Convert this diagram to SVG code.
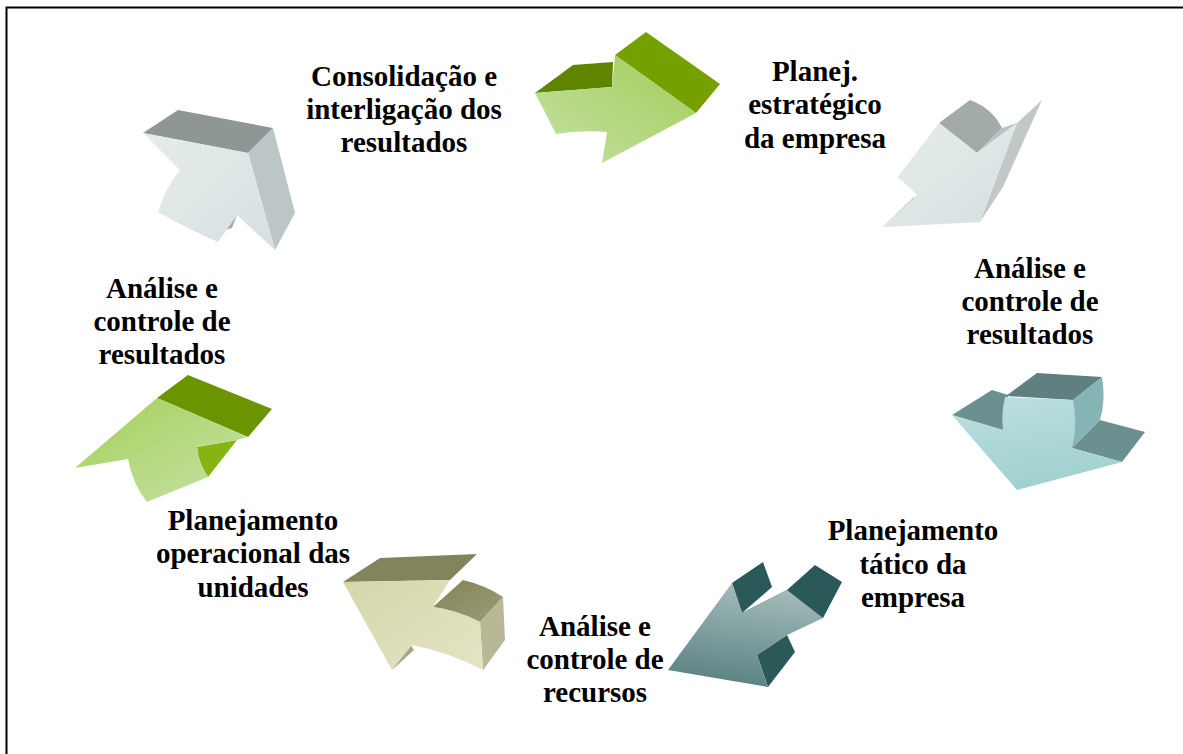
<svg xmlns="http://www.w3.org/2000/svg" width="1183" height="754" viewBox="0 0 1183 754">
  <defs>
    <style>
      .lbl { font-family: "Liberation Serif", "Times New Roman", serif; font-weight: bold; font-size: 29px; fill: #000; text-anchor: middle; }
    </style>
    <linearGradient id="gGreen1" x1="0" y1="1" x2="1" y2="0">
      <stop offset="0" stop-color="#c4e2a4"/>
      <stop offset="1" stop-color="#a2cc58"/>
    </linearGradient>
    <linearGradient id="gGreen2" x1="0" y1="0" x2="1" y2="1">
      <stop offset="0" stop-color="#a4cf5a"/>
      <stop offset="1" stop-color="#c6e3a6"/>
    </linearGradient>
    <linearGradient id="gGrey" x1="0" y1="0" x2="1" y2="1">
      <stop offset="0" stop-color="#e6ecec"/>
      <stop offset="1" stop-color="#d6e0e0"/>
    </linearGradient>
    <linearGradient id="gTeal" x1="0" y1="0" x2="0.3" y2="1">
      <stop offset="0" stop-color="#bde0e0"/>
      <stop offset="1" stop-color="#a2d0d0"/>
    </linearGradient>
    <linearGradient id="gDeep" x1="0.5" y1="0" x2="0.3" y2="1">
      <stop offset="0" stop-color="#a4bcbc"/>
      <stop offset="1" stop-color="#588080"/>
    </linearGradient>
    <linearGradient id="gKhaki" x1="0" y1="0" x2="1" y2="1">
      <stop offset="0" stop-color="#d6d6aa"/>
      <stop offset="1" stop-color="#e4e4c6"/>
    </linearGradient>
    <linearGradient id="gKhakiSide" x1="0" y1="0" x2="1" y2="1">
      <stop offset="0" stop-color="#82825a"/>
      <stop offset="1" stop-color="#9c9c76"/>
    </linearGradient>
  </defs>

  <rect x="0" y="0" width="1183" height="754" fill="#fff"/>
  <!-- page frame -->
  <rect x="6.5" y="7.5" width="1190" height="760" fill="none" stroke="#000" stroke-width="2"/>

  <g id="connectors">
    <!-- arrow: consolidation -> strategic planning -->
    <g id="arrow-top">
      <polygon points="535,93 573,65 613,62 612,87" fill="#5e8400"/>
      <polygon points="615,55 646,32 720,84 696,113" fill="#76a000"/>
      <path d="M535,93 L612,87 L615,55 L696,113 L602,163 L607,132 Q580,130 556,134 Q545,112 535,93 Z" fill="url(#gGreen1)"/>
    </g>
    <!-- arrow: strategic planning -> result analysis -->
    <g id="arrow-topright">
      <path d="M939,123 L970,100 Q992,108 1002,128 L977,153 Z" fill="#a2aaaa"/>
      <polygon points="977,153 1002,128 1017,123" fill="#b8c2c2"/>
      <polygon points="1017,123 1042,100 1003,187 980,222" fill="#c0c8c8"/>
      <polygon points="883,227 914,197 918,202" fill="#a8b2b2"/>
      <path d="M939,123 L977,153 L1017,123 L980,222 L883,227 L917,195 Q905,182 897,178 Q920,148 939,123 Z" fill="url(#gGrey)"/>
    </g>
    <!-- arrow: result analysis -> tactical planning -->
    <g id="arrow-right">
      <polygon points="952,415 992,390 1008,395 1003,430" fill="#6a9090"/>
      <polygon points="1006,396 1037,373 1102,377 1073,400" fill="#5e8080"/>
      <path d="M1073,400 L1102,377 Q1106,400 1100,420 L1072,448 Z" fill="#84b4b4"/>
      <polygon points="1072,448 1100,420 1145,432 1122,462" fill="#6a9090"/>
      <path d="M952,415 L1003,430 Q1001,412 1005,397 L1073,400 Q1078,425 1072,448 L1122,462 L1017,490 Z" fill="url(#gTeal)"/>
    </g>
    <!-- arrow: tactical planning -> resource analysis -->
    <g id="arrow-bottomright">
      <polygon points="732,583 763,562 772,587 742,613" fill="#2b5858"/>
      <polygon points="742,613 787,590 815,565 842,582 823,618" fill="#2b5858"/>
      <polygon points="757,655 787,635 795,652 768,687" fill="#2b5858"/>
      <polygon points="732,583 742,613 787,590 823,618 787,635 757,655 768,687 668,670" fill="url(#gDeep)"/>
    </g>
    <!-- arrow: resource analysis -> operational planning -->
    <g id="arrow-bottomleft">
      <polygon points="343,582 380,558 477,554 450,580" fill="#84845c"/>
      <path d="M433,607 L463,580 Q485,585 503,597 L480,622 Q455,610 433,607 Z" fill="url(#gKhakiSide)"/>
      <polygon points="480,622 503,597 505,640 483,670" fill="#b8b896"/>
      <polygon points="392,670 410,644 414,650" fill="#a6a680"/>
      <path d="M343,582 L450,580 L433,607 Q458,610 480,622 L483,670 Q448,652 412,645 L392,670 Z" fill="url(#gKhaki)"/>
    </g>
    <!-- arrow: operational planning -> result analysis -->
    <g id="arrow-left">
      <polygon points="157,398 188,375 272,409 248,437" fill="#6c9400"/>
      <path d="M197,447 L237,440 L208,477 Q198,462 197,447 Z" fill="#86b410"/>
      <path d="M75,468 L157,398 L248,437 L237,440 L197,447 Q198,462 208,477 L147,502 Q133,485 128,459 Z" fill="url(#gGreen2)"/>
    </g>
    <!-- arrow: result analysis -> consolidation -->
    <g id="arrow-topleft">
      <polygon points="143,133 178,110 273,128 248,153" fill="#8e9696"/>
      <polygon points="248,153 273,128 295,213 275,250" fill="#bcc6c6"/>
      <polygon points="218,232 237,215 232,228" fill="#a6b0b0"/>
      <path d="M143,133 L248,153 L275,250 L237,215 L218,242 Q190,230 158,212 Q165,188 180,170 Z" fill="url(#gGrey)"/>
    </g>
  </g>

  <g id="node-consolidacao">
    <text class="lbl" x="404" y="86">Consolidação e</text>
    <text class="lbl" x="404" y="119">interligação dos</text>
    <text class="lbl" x="404" y="152">resultados</text>
  </g>
  <g id="node-planej-estrategico">
    <text class="lbl" x="815" y="81">Planej.</text>
    <text class="lbl" x="815" y="114">estratégico</text>
    <text class="lbl" x="815" y="148">da empresa</text>
  </g>
  <g id="node-analise-resultados-dir">
    <text class="lbl" x="1030" y="278">Análise e</text>
    <text class="lbl" x="1030" y="311">controle de</text>
    <text class="lbl" x="1030" y="344">resultados</text>
  </g>
  <g id="node-planej-tatico">
    <text class="lbl" x="913" y="540">Planejamento</text>
    <text class="lbl" x="913" y="574">tático da</text>
    <text class="lbl" x="913" y="607">empresa</text>
  </g>
  <g id="node-analise-recursos">
    <text class="lbl" x="595" y="636">Análise e</text>
    <text class="lbl" x="595" y="669">controle de</text>
    <text class="lbl" x="595" y="702">recursos</text>
  </g>
  <g id="node-planej-operacional">
    <text class="lbl" x="253" y="530">Planejamento</text>
    <text class="lbl" x="253" y="563">operacional das</text>
    <text class="lbl" x="253" y="597">unidades</text>
  </g>
  <g id="node-analise-resultados-esq">
    <text class="lbl" x="162" y="298">Análise e</text>
    <text class="lbl" x="162" y="331">controle de</text>
    <text class="lbl" x="162" y="364">resultados</text>
  </g>
</svg>
